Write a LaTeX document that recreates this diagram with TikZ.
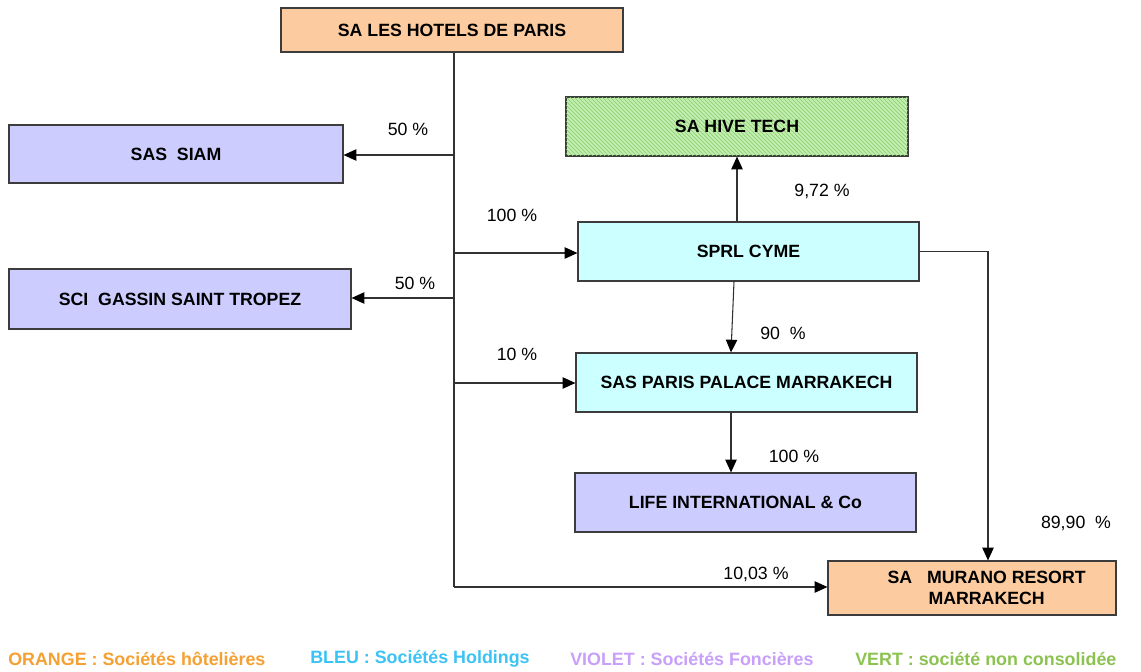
\documentclass[tikz,border=0pt]{standalone}
\usepackage{fontspec}
\setmainfont{Liberation Sans}
\usetikzlibrary{arrows.meta,patterns,calc}
\definecolor{orgfill}{RGB}{252,204,160}
\definecolor{vioFill}{RGB}{204,204,255}
\definecolor{cyaFill}{RGB}{204,255,255}
\definecolor{grnFill}{RGB}{195,238,178}
\definecolor{grnHatch}{RGB}{135,205,105}
\definecolor{boxline}{RGB}{60,60,60}
\definecolor{lnk}{RGB}{50,50,50}
\definecolor{legOrange}{RGB}{245,160,50}
\definecolor{legBlue}{RGB}{60,195,245}
\definecolor{legViolet}{RGB}{200,160,250}
\definecolor{legGreen}{RGB}{140,195,80}
\begin{document}
\begin{tikzpicture}[x=0.75pt,y=-0.75pt,
  box/.style={draw=boxline, line width=0.9pt, inner sep=0pt, align=center,
    font=\bfseries\fontsize{13.3}{16}\selectfont},
  orgbox/.style={box, fill=orgfill},
  viobox/.style={box, fill=vioFill},
  cyabox/.style={box, fill=cyaFill},
  pct/.style={font=\fontsize{13.3}{16}\selectfont, inner sep=0pt},
  leg/.style={font=\bfseries\fontsize{13.4}{16}\selectfont, inner sep=0pt, anchor=west},
  link/.style={draw=lnk, line width=0.8pt},
  arr/.style={link, -{Triangle[length=9.5pt,width=8.5pt,fill=black,color=black]}}]
\useasboundingbox (0,0) rectangle (1141,671);
\fill[white] (0,0) rectangle (1141,671);

\node[orgbox, minimum width=256.5pt, minimum height=33pt] (top) at (452,30) {SA LES HOTELS DE PARIS};
\node[viobox, minimum width=250.5pt, minimum height=43.5pt] (siam) at (176,154) {SAS\ \ SIAM};
\node[viobox, minimum width=256.5pt, minimum height=45pt] (gassin) at (180,299) {SCI\ \ GASSIN SAINT TROPEZ};
\node[box, fill=grnFill, minimum width=256.5pt, minimum height=44.25pt] (hive) at (737,126.5) {};
\fill[pattern=north west lines, pattern color=grnHatch] (hive.south west) rectangle (hive.north east);
\draw[boxline, line width=0.9pt] (hive.south west) rectangle (hive.north east);
\node[font=\bfseries\fontsize{13.3}{16}\selectfont] at (hive.center) {SA HIVE TECH};
\node[cyabox, minimum width=255.75pt, minimum height=44.25pt] (cyme) at (748.5,251.5) {SPRL CYME};
\node[cyabox, minimum width=255.75pt, minimum height=44.25pt] (palace) at (746.5,382.5) {SAS PARIS PALACE MARRAKECH};
\node[viobox, minimum width=255.75pt, minimum height=44.25pt] (life) at (745.5,502.5) {LIFE INTERNATIONAL \& Co};
\node[orgbox, minimum width=216pt, minimum height=40.5pt] (murano) at (972,588) {\hspace*{22pt}SA\ \ \ MURANO RESORT\\\hspace*{22pt}MARRAKECH};

\coordinate (j1) at (454,155);
\coordinate (j2) at (454,253);
\coordinate (j3) at (454,298);
\coordinate (j4) at (454,383);
\coordinate (j5) at (454,587);
\coordinate (c1) at (988,251.5);

\draw[link] (top.south -| j1) -- (j5);
\draw[arr] (j1) -- (j1 -| siam.east);
\draw[arr] (j2) -- (j2 -| cyme.west);
\draw[arr] (j3) -- (j3 -| gassin.east);
\draw[arr] (j4) -- (j4 -| palace.west);
\draw[arr] (j5) -- (j5 -| murano.west);
\draw[arr] (cyme.north -| hive.south) -- (hive.south);
\draw[arr] ($(cyme.south)+(-14.5,0)$) -- ($(palace.north)+(-15.5,0)$);
\draw[arr] ($(palace.south)+(-15.5,0)$) -- ($(life.north)+(-14.5,0)$);
\draw[arr] (cyme.east) -- (c1) -- (c1 |- murano.north);

\node[pct] (p1) at (408,129) {50 \%};
\node[pct] (p2) at (512,215) {100 \%};
\node[pct] (p3) at (415,283) {50 \%};
\node[pct] (p4) at (517,354) {10 \%};
\node[pct] (p5) at (822,191) {9,72 \%};
\node[pct] (p6) at (783,333) {90\ \ \%};
\node[pct] (p7) at (794,456) {100 \%};
\node[pct] (p8) at (1076,523) {89,90\ \ \%};
\node[pct] (p9) at (756,574) {10,03 \%};

\node[leg, text=legOrange] (l1) at (8,659) {ORANGE : Sociétés hôtelières};
\node[leg, text=legBlue] (l2) at (310,659) {BLEU : Sociétés Holdings};
\node[leg, text=legViolet] (l3) at (570,659) {VIOLET : Sociétés Foncières};
\node[leg, text=legGreen] (l4) at (855,659) {VERT : société non consolidée};
\end{tikzpicture}
\end{document}
